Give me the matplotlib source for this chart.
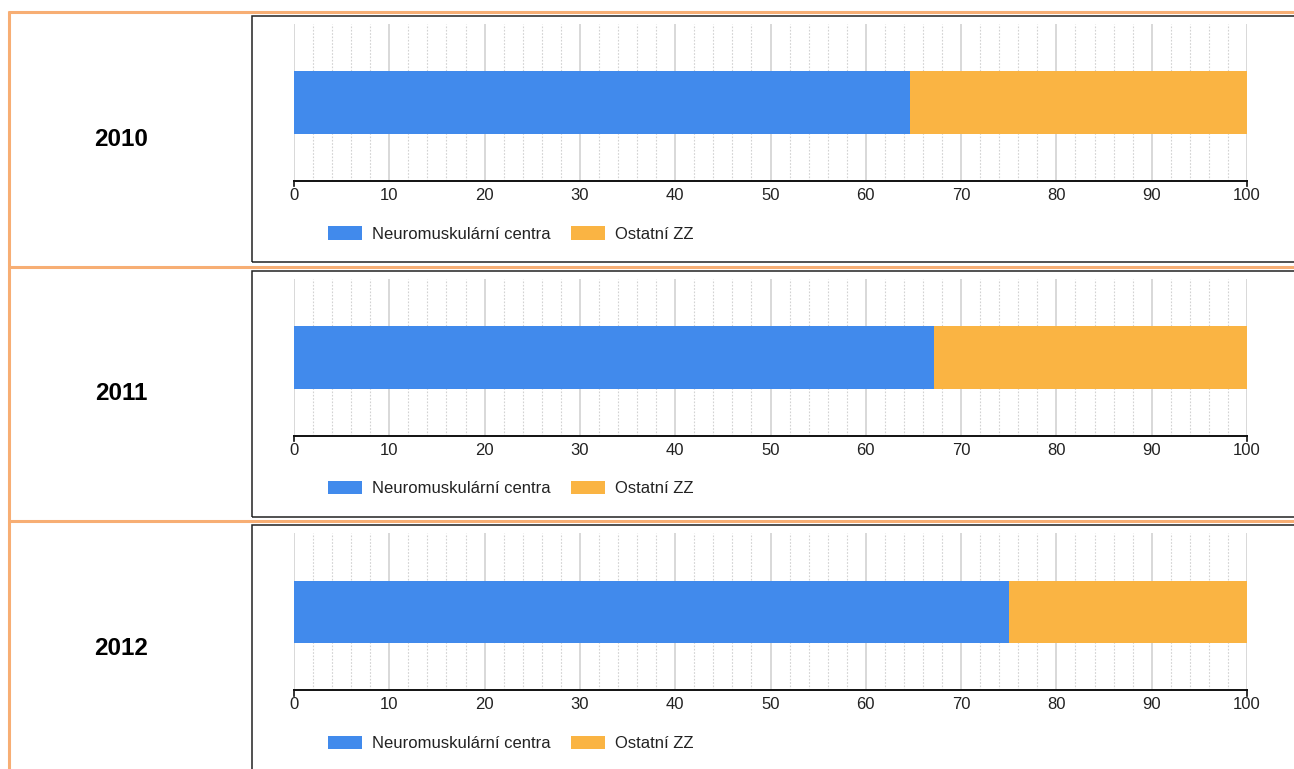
import matplotlib.pyplot as plt
from matplotlib.lines import Line2D
from matplotlib.patches import Rectangle

# data (percent shares per year)
years = ['2010', '2011', '2012']
neuro = [64.6, 67.2, 75.0]
ostatni = [35.4, 32.8, 25.0]
series_names = ['Neuromuskulární centra', 'Ostatní ZZ']
xticks = [0, 10, 20, 30, 40, 50, 60, 70, 80, 90, 100]
minor_ticks = [v for v in range(0, 101, 2)]

plt.rcParams['font.family'] = ['Liberation Sans', 'DejaVu Sans']

W, H = 1294, 769
fig = plt.figure(figsize=(W / 100, H / 100), dpi=100)

def fx(x):  # pixel -> figure coords
    return x / W

def fy(y):
    return 1 - y / H

orange = '#F7AE74'
blue = '#418AEC'
gold = '#FAB443'
row = 254.7

# table lines
fig.add_artist(Line2D([fx(8), fx(1300)], [fy(12), fy(12)], color=orange, lw=2.2, solid_capstyle='butt'))
fig.add_artist(Line2D([fx(9), fx(9)], [fy(11), fy(780)], color=orange, lw=2.2, solid_capstyle='butt'))
for k in (1, 2):
    yy = 12 + k * row
    fig.add_artist(Line2D([fx(8), fx(1300)], [fy(yy), fy(yy)], color=orange, lw=2.2, solid_capstyle='butt'))

for i, yr in enumerate(years):
    off = i * row
    # box round the chart
    fig.add_artist(Rectangle((fx(252), fy(262 + off)), fx(1300) - fx(252), fy(16 + off) - fy(262 + off),
                             transform=fig.transFigure, fill=False, ec='#222222', lw=1.1))
    fig.text(fx(121), fy(139 + off), yr, ha='center', va='center', fontsize=17.5, fontweight='bold')

    ax = fig.add_axes([fx(294), fy(181 + off), fx(1247) - fx(294), (181 - 24) / H])
    b1 = ax.barh(0, neuro[i], height=0.8, color=blue)
    b2 = ax.barh(0, ostatni[i], left=neuro[i], height=0.8, color=gold)
    ax.set_xlim(0, 100)
    ax.set_ylim(-1, 1)
    ax.set_yticks([])
    ax.set_xticks(xticks)
    ax.set_xticks(minor_ticks, minor=True)
    ax.set_axisbelow(True)
    ax.grid(axis='x', which='major', color='#d6d6d6', lw=1.3)
    ax.grid(axis='x', which='minor', color='#d2d2d2', lw=0.8, ls=(0, (1.5, 1.5)))
    for s in ('top', 'left', 'right'):
        ax.spines[s].set_visible(False)
    ax.spines['bottom'].set_linewidth(1.4)
    ax.spines['bottom'].set_color('#111111')
    ax.tick_params(axis='x', which='both', length=0, pad=5, labelsize=12, labelcolor='#222222')
    ax.axvline(0, ymin=-0.035, ymax=0, color='#111111', lw=1.2, clip_on=False)
    ax.axvline(100, ymin=-0.035, ymax=0, color='#111111', lw=1.2, clip_on=False)

    ax.legend(handles=[b1, b2], labels=series_names, loc='center left',
              bbox_to_anchor=(fx(328), fy(234 + off)), bbox_transform=fig.transFigure,
              ncol=2, frameon=False, fontsize=12, handlelength=2.05, handleheight=0.84,
              handletextpad=0.6, columnspacing=1.2, borderpad=0, borderaxespad=0,
              labelcolor='#222222')

fig.savefig('out.png', dpi=100)
